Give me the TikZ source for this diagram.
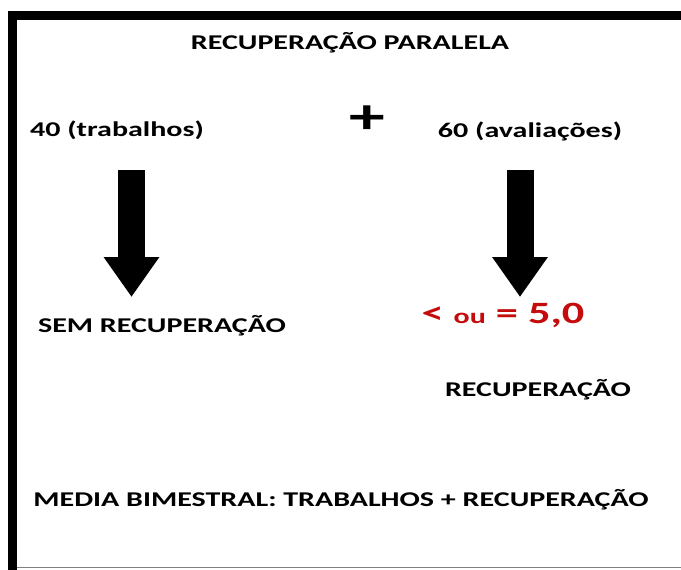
\documentclass[tikz,border=0pt]{standalone}
\usepackage{fontspec}
\setmainfont[FakeStretch=1.43]{Carlito}
\usepackage{tikz}
\usetikzlibrary{arrows.meta}
\usetikzlibrary{positioning}
\definecolor{notered}{RGB}{196,12,12}
\tikzset{
  x = 1pt,
  y = -1pt,
  label/.style = {font=\fontsize{21}{25}\selectfont\bfseries, inner sep=0pt},
  bigarrow/.style = {line width=27pt, -{Triangle[width=53pt,length=40pt]}},
}

\begin{document}
\begin{tikzpicture}
  \useasboundingbox (0,0) rectangle (681,570);
  % frame
  \draw [line width=9pt] (12.5,570) -- (12.5,15) -- (681,15);
  \draw [gray, line width=1pt] (17,567) -- (681,567);

  \node [label] (title) at (350,43) {RECUPERAÇÃO PARALELA};
  \node [label] (works) at (117,130) {40 (trabalhos)};
  \node [label, font=\fontsize{50}{50}\selectfont\bfseries] (plus) at (367,120) {+};
  \node [label] (tests) at (530,131) {60 (avaliações)};
  \node [label] (norec) at (162,326) {SEM RECUPERAÇÃO};
  \node [label, text=notered, font=\fontsize{31}{31}\selectfont\bfseries] (limit) at (503,315)
    {< {\fontsize{21}{21}\selectfont ou} = 5,0};
  \node [label] (rec) at (538,390) {RECUPERAÇÃO};
  \node [label] (mean) at (341,500) {MEDIA BIMESTRAL: TRABALHOS + RECUPERAÇÃO};

  \coordinate (a0) at (131.5,170);
  \coordinate (a1) at (131.5,297);
  \coordinate (b0) at (520,170);
  \coordinate (b1) at (520,297);
  \draw [bigarrow] (a0) -- (a1);
  \draw [bigarrow] (b0) -- (b1);
\end{tikzpicture}
\end{document}
